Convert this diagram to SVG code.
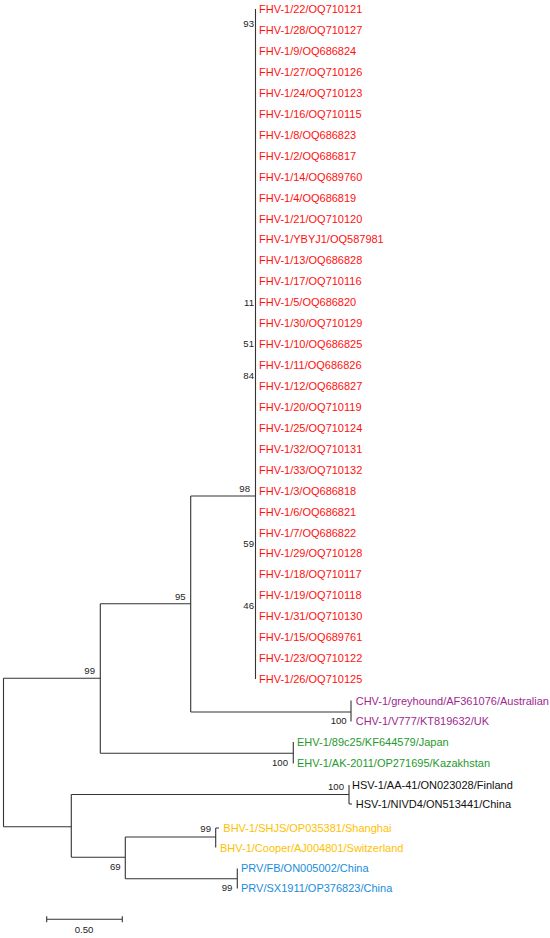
<svg xmlns="http://www.w3.org/2000/svg" width="550" height="938" viewBox="0 0 550 938">
<style>
.br{fill:none;stroke:#333;stroke-width:1.1}
.lf{font-family:"Liberation Sans",Arial,sans-serif;font-size:11px}
.bs{font-family:"Liberation Sans",Arial,sans-serif;font-size:9.6px;fill:#222;text-anchor:end}
.fhv{fill:#FF1010}
.chv{fill:#A0278F}
.ehv{fill:#1F9A2D}
.hsv{fill:#111}
.bhv{fill:#FFBF00}
.prv{fill:#1A8CDB}
</style>
<rect width="550" height="938" fill="#fff"/>
<g id="connectors" class="br">
<path d="M3.5 678.3V826.7M3.5 678.3H100.3M3.5 826.7H71.3"/>
<path d="M100.3 603.7V753.3M100.3 603.7H190.7M100.3 753.3H293.3"/>
<path d="M190.7 496V712M190.7 496H255.5M190.7 712H351"/>
<path d="M255.5 9V679"/>
<path d="M351 700.5V721.5"/>
<path d="M293.3 742V763.5"/>
<path d="M71.3 794.5V857.3M71.3 794.5H349M349 785V804M349 804H352"/>
<path d="M71.3 857.3H125.3M125.3 837V878.7M125.3 837H215.7M215.7 828V847.5M215.7 828H219"/>
<path d="M125.3 878.7H237.3M237.3 868.5V888.5"/>
</g>
<g id="scalebar">
<path class="br" d="M46.7 919.3H122.3M46.7 916.3V922.3M122.3 916.3V922.3"/>
<text class="bs" x="84" y="933" style="text-anchor:middle">0.50</text>
</g>
<g id="bootstrap">
<text class="bs" x="254" y="26.5">93</text>
<text class="bs" x="254" y="305.5">11</text>
<text class="bs" x="254" y="346.5">51</text>
<text class="bs" x="254" y="378.5">84</text>
<text class="bs" x="250" y="491.5">98</text>
<text class="bs" x="254" y="546.5">59</text>
<text class="bs" x="254" y="608.5">46</text>
<text class="bs" x="185.7" y="599.5">95</text>
<text class="bs" x="95" y="674">99</text>
<text class="bs" x="346.7" y="724">100</text>
<text class="bs" x="288" y="765.5">100</text>
<text class="bs" x="344" y="790">100</text>
<text class="bs" x="211" y="832">99</text>
<text class="bs" x="120.7" y="870">69</text>
<text class="bs" x="232.3" y="890.8">99</text>
</g>
<g id="FHV" class="lf fhv">
<text id="n1" x="259" y="13.2">FHV-1/22/OQ710121</text>
<text id="n2" x="259" y="34.1">FHV-1/28/OQ710127</text>
<text id="n3" x="259" y="55.1">FHV-1/9/OQ686824</text>
<text id="n4" x="259" y="76">FHV-1/27/OQ710126</text>
<text id="n5" x="259" y="96.9">FHV-1/24/OQ710123</text>
<text id="n6" x="259" y="117.9">FHV-1/16/OQ710115</text>
<text id="n7" x="259" y="138.8">FHV-1/8/OQ686823</text>
<text id="n8" x="259" y="159.7">FHV-1/2/OQ686817</text>
<text id="n9" x="259" y="180.6">FHV-1/14/OQ689760</text>
<text id="n10" x="259" y="201.6">FHV-1/4/OQ686819</text>
<text id="n11" x="259" y="222.5">FHV-1/21/OQ710120</text>
<text id="n12" x="259" y="243.4">FHV-1/YBYJ1/OQ587981</text>
<text id="n13" x="259" y="264.4">FHV-1/13/OQ686828</text>
<text id="n14" x="259" y="285.3">FHV-1/17/OQ710116</text>
<text id="n15" x="259" y="306.2">FHV-1/5/OQ686820</text>
<text id="n16" x="259" y="327.2">FHV-1/30/OQ710129</text>
<text id="n17" x="259" y="348.1">FHV-1/10/OQ686825</text>
<text id="n18" x="259" y="369">FHV-1/11/OQ686826</text>
<text id="n19" x="259" y="389.9">FHV-1/12/OQ686827</text>
<text id="n20" x="259" y="410.9">FHV-1/20/OQ710119</text>
<text id="n21" x="259" y="431.8">FHV-1/25/OQ710124</text>
<text id="n22" x="259" y="452.7">FHV-1/32/OQ710131</text>
<text id="n23" x="259" y="473.7">FHV-1/33/OQ710132</text>
<text id="n24" x="259" y="494.6">FHV-1/3/OQ686818</text>
<text id="n25" x="259" y="515.5">FHV-1/6/OQ686821</text>
<text id="n26" x="259" y="536.5">FHV-1/7/OQ686822</text>
<text id="n27" x="259" y="557.4">FHV-1/29/OQ710128</text>
<text id="n28" x="259" y="578.3">FHV-1/18/OQ710117</text>
<text id="n29" x="259" y="599.2">FHV-1/19/OQ710118</text>
<text id="n30" x="259" y="620.2">FHV-1/31/OQ710130</text>
<text id="n31" x="259" y="641.1">FHV-1/15/OQ689761</text>
<text id="n32" x="259" y="662">FHV-1/23/OQ710122</text>
<text id="n33" x="259" y="683">FHV-1/26/OQ710125</text>
</g>
<g id="CHV" class="lf chv">
<text id="n34" x="355.7" y="704.7">CHV-1/greyhound/AF361076/Australian</text>
<text id="n35" x="355.7" y="725">CHV-1/V777/KT819632/UK</text>
</g>
<g id="EHV" class="lf ehv">
<text id="n36" x="297" y="746">EHV-1/89c25/KF644579/Japan</text>
<text id="n37" x="297" y="767">EHV-1/AK-2011/OP271695/Kazakhstan</text>
</g>
<g id="HSV" class="lf hsv">
<text id="n38" x="352" y="789">HSV-1/AA-41/ON023028/Finland</text>
<text id="n39" x="355.7" y="807.5">HSV-1/NIVD4/ON513441/China</text>
</g>
<g id="BHV" class="lf bhv">
<text id="n40" x="223.3" y="832.3">BHV-1/SHJS/OP035381/Shanghai</text>
<text id="n41" x="220" y="851.7">BHV-1/Cooper/AJ004801/Switzerland</text>
</g>
<g id="PRV" class="lf prv">
<text id="n42" x="241" y="871.7">PRV/FB/ON005002/China</text>
<text id="n43" x="241" y="892.3">PRV/SX1911/OP376823/China</text>
</g>
</svg>
